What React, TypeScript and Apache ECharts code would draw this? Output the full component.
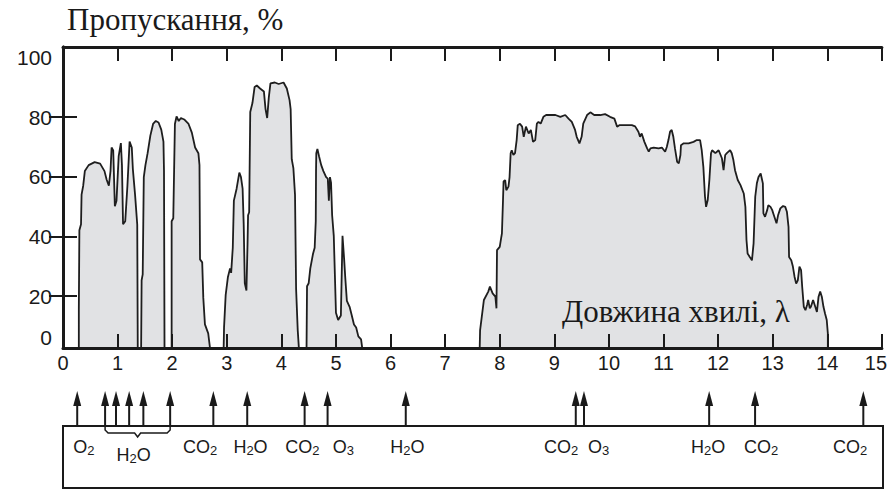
import React, { useEffect, useRef } from 'react';
import * as echarts from 'echarts';

// Atmospheric transmission windows: [wavelength µm, transmission %]
const windowUv: [number, number][] = [
  [0.29, 0], [0.29, 15.4], [0.3, 42.1], [0.33, 44.1], [0.34, 54.0], [0.37, 57.0], [0.4, 61.9],
  [0.47, 63.9], [0.58, 64.9], [0.68, 64.4], [0.76, 61.9], [0.8, 59.0], [0.84, 57.0], [0.87, 61.9],
  [0.89, 69.8], [0.92, 68.8], [0.95, 50.1], [0.98, 52.0], [1.02, 66.9], [1.06, 71.3], [1.08, 63.9],
  [1.1, 44.1], [1.14, 45.1], [1.18, 57.0], [1.22, 71.8], [1.26, 69.8], [1.28, 62.5], [1.32, 54.0],
  [1.36, 44.0], [1.37, 0],
];
const windowNir1: [number, number][] = [
  [1.43, 0], [1.44, 25.3], [1.46, 27.3], [1.48, 59.9], [1.51, 63.9], [1.55, 67.9], [1.6, 73.8],
  [1.65, 77.7], [1.7, 78.7], [1.75, 78.2], [1.8, 75.8], [1.84, 71.8], [1.85, 61.9], [1.86, 0],
];
const windowNir2: [number, number][] = [
  [1.99, 0], [1.99, 45.1], [2.02, 46.1], [2.05, 77.7], [2.08, 80.2], [2.12, 78.7], [2.16, 79.7],
  [2.22, 79.2], [2.3, 77.7], [2.36, 74.8], [2.42, 69.8], [2.48, 67.9], [2.5, 63.9], [2.51, 32.3],
  [2.55, 31.3], [2.57, 19.4], [2.6, 10.5], [2.66, 7.5], [2.71, 0],
];
const windowMwir: [number, number][] = [
  [2.94, 0], [2.95, 9.5], [2.98, 20.4], [3.02, 26.3], [3.06, 29.3], [3.08, 27.8], [3.11, 36.2],
  [3.13, 52.0], [3.18, 56.0], [3.23, 61.4], [3.26, 59.9], [3.29, 56.0], [3.31, 44.1], [3.33, 24.3],
  [3.36, 21.9], [3.38, 37.2], [3.39, 47.1], [3.41, 48.1], [3.43, 81.7], [3.47, 84.7], [3.51, 90.1],
  [3.55, 90.6], [3.61, 89.6], [3.68, 88.6], [3.71, 82.7], [3.74, 79.7], [3.77, 86.6], [3.8, 91.3],
  [3.88, 91.6], [3.95, 91.1], [4.04, 91.6], [4.1, 89.6], [4.15, 85.7], [4.17, 82.7], [4.19, 65.9],
  [4.22, 62.9], [4.25, 54.0], [4.27, 22.4], [4.3, 8.5], [4.33, 0],
];
const windowMwir2: [number, number][] = [
  [4.46, 0], [4.47, 23.3], [4.5, 24.3], [4.53, 29.3], [4.58, 34.2], [4.61, 36.2], [4.63, 45.1],
  [4.635, 61.9], [4.64, 67.9], [4.66, 69.3], [4.69, 66.9], [4.73, 63.9], [4.77, 61.9], [4.82, 59.9],
  [4.85, 59.4], [4.87, 52.0], [4.89, 59.9], [4.91, 58.0], [4.93, 47.1], [4.96, 40.2], [4.98, 27.3],
  [5.0, 14.4], [5.04, 12.0], [5.09, 13.5], [5.12, 40.2], [5.15, 32.3], [5.17, 26.3], [5.2, 18.4],
  [5.25, 16.4], [5.29, 13.5], [5.33, 10.5], [5.37, 9.5], [5.41, 6.5], [5.46, 5.5], [5.5, 0],
];
const windowLwir: [number, number][] = [
  [7.63, 0], [7.64, 8.5], [7.71, 18.7], [7.79, 21.5], [7.82, 23.2], [7.87, 20.9], [7.92, 19.8],
  [7.94, 15.9], [7.95, 35.4], [8.0, 36.5], [8.03, 39.9], [8.04, 41.0], [8.06, 52.2], [8.07, 58.4],
  [8.1, 58.9], [8.12, 55.5], [8.16, 56.7], [8.18, 59.9], [8.2, 67.9], [8.22, 68.9], [8.25, 67.3],
  [8.28, 67.9], [8.31, 72.3], [8.33, 77.3], [8.37, 77.8], [8.41, 76.8], [8.44, 73.4], [8.48, 76.8],
  [8.53, 74.5], [8.57, 75.7], [8.61, 71.7], [8.65, 72.3], [8.68, 77.8], [8.71, 78.4], [8.75, 77.8],
  [8.8, 80.1], [8.85, 80.7], [9.02, 80.7], [9.11, 80.1], [9.2, 80.7], [9.26, 79.5], [9.32, 78.4],
  [9.38, 75.7], [9.41, 73.4], [9.46, 71.2], [9.5, 73.4], [9.53, 77.8], [9.6, 80.7], [9.66, 81.6],
  [9.73, 80.7], [9.84, 80.7], [9.93, 81.0], [10.02, 80.1], [10.1, 79.5], [10.15, 76.8], [10.19, 77.3],
  [10.42, 77.3], [10.48, 76.9], [10.54, 75.1], [10.57, 73.4], [10.6, 74.5], [10.65, 71.7],
  [10.7, 69.5], [10.73, 68.4], [10.76, 69.5], [10.82, 69.8], [10.91, 69.5], [10.97, 69.8],
  [11.03, 68.4], [11.06, 70.0], [11.09, 72.3], [11.12, 75.1], [11.15, 75.7], [11.18, 73.4],
  [11.21, 69.5], [11.25, 65.0], [11.28, 64.5], [11.31, 67.3], [11.32, 70.6], [11.37, 71.2],
  [11.46, 71.2], [11.55, 71.7], [11.61, 72.3], [11.67, 72.3], [11.7, 68.9], [11.73, 63.3],
  [11.76, 53.3], [11.78, 49.9], [11.81, 52.2], [11.84, 58.9], [11.87, 67.9], [11.89, 68.9],
  [11.95, 67.9], [12.01, 68.9], [12.07, 66.2], [12.1, 62.2], [12.13, 67.3], [12.16, 67.9],
  [12.19, 68.4], [12.22, 68.9], [12.25, 67.9], [12.28, 65.6], [12.31, 62.2], [12.36, 58.9],
  [12.41, 57.2], [12.47, 54.4], [12.5, 49.9], [12.52, 38.8], [12.54, 34.3], [12.58, 33.1],
  [12.62, 32.0], [12.65, 37.7], [12.68, 53.3], [12.71, 57.8], [12.74, 59.9], [12.78, 61.1],
  [12.82, 57.8], [12.83, 47.7], [12.86, 46.6], [12.9, 48.9], [12.92, 50.5], [12.96, 49.9],
  [12.99, 48.9], [13.02, 47.2], [13.07, 44.4], [13.1, 47.2], [13.14, 49.4], [13.19, 50.2],
  [13.23, 49.9], [13.26, 48.3], [13.29, 43.2], [13.3, 33.1], [13.34, 32.0], [13.37, 29.9],
  [13.4, 26.5], [13.43, 24.2], [13.46, 25.3], [13.49, 29.9], [13.52, 28.7], [13.54, 23.2],
  [13.57, 16.4], [13.6, 15.3], [13.63, 17.0], [13.65, 18.7], [13.68, 15.9], [13.7, 16.4],
  [13.74, 18.7], [13.78, 16.4], [13.81, 14.7], [13.84, 19.8], [13.87, 21.5], [13.9, 19.8],
  [13.93, 16.4], [13.96, 14.1], [13.99, 12.0], [14.01, 7.5], [14.01, 0],
];

// Axis ticks
const yTickValues = [20, 40, 60, 80];
const yLabelValues = [2.6, 20, 40, 60, 80, 100];

// Absorption bands marked below the axis
const absorptionArrows = [0.26, 0.77, 0.97, 1.21, 1.47, 1.96, 2.75, 3.37, 4.42, 4.84, 6.27, 9.38, 9.53, 11.82, 12.66, 14.64];
const gasNames = ['O2', 'CO2', 'H2O', 'CO2', 'O3', 'H2O', 'CO2', 'O3', 'H2O', 'CO2', 'CO2'];
const gasNameAt = [0.38, 2.51, 3.43, 4.38, 5.13, 6.3, 9.11, 9.8, 11.8, 12.77, 14.4];
const braceRange = [0.77, 1.96];
const braceName = 'H2O';

const INK = '#1a1a1a';
const SANS = '"Liberation Sans", Arial, Helvetica, sans-serif';
const SERIF = '"Liberation Serif", "Times New Roman", serif';

const chemRich = (name: string) => name.replace(/(\d)/g, '{s|$1}');
const chemStyle = {
  fontSize: 18,
  fontFamily: SANS,
  fill: INK,
  lineHeight: 20,
  align: 'center',
  verticalAlign: 'middle',
  rich: {
    s: { fontSize: 13, fontFamily: SANS, fill: INK, lineHeight: 14, verticalAlign: 'bottom' },
  },
};

const transmission = [
  ...windowUv, ...windowNir1, ...windowNir2, ...windowMwir, ...windowMwir2, ...windowLwir,
];

const axisCommon = {
  type: 'value' as const,
  gridIndex: 0,
  axisLine: { show: true, lineStyle: { color: INK, width: 3 } },
  axisTick: { show: true, inside: true, length: 14, lineStyle: { color: INK, width: 2 } },
  splitLine: { show: false },
  z: 10,
};

const option: any = {
  animation: false,
  backgroundColor: '#ffffff',
  grid: [
    { left: 63, right: 7, top: 47, bottom: 145, show: false },
    { left: 63, right: 7, top: 426, bottom: 5, show: true, borderColor: INK, borderWidth: 2, backgroundColor: 'transparent' },
  ],
  xAxis: [
    {
      ...axisCommon,
      position: 'bottom',
      min: 0,
      max: 15,
      interval: 1,
      axisLabel: {
        margin: 5,
        fontSize: 20,
        fontFamily: SANS,
        color: INK,
        formatter: (v: number) => (v === 15 ? '{r|15}' : String(v)),
        rich: { r: { fontSize: 20, fontFamily: SANS, color: INK, padding: [0, 12, 0, 0] } },
      },
    },
    {
      ...axisCommon,
      position: 'top',
      min: 0,
      max: 15,
      interval: 1,
      axisLabel: { show: false },
    },
    { type: 'value', gridIndex: 1, min: 0, max: 15, show: false },
  ],
  yAxis: [
    {
      ...axisCommon,
      position: 'left',
      min: 2.6,
      max: 103.5,
      axisTick: { ...axisCommon.axisTick, customValues: yTickValues },
      axisLabel: {
        customValues: yLabelValues,
        margin: 11,
        fontSize: 21,
        fontFamily: SANS,
        color: INK,
        formatter: (v: number) => (v < 10 ? '{z|0}' : String(v)),
        rich: { z: { fontSize: 21, fontFamily: SANS, color: INK, padding: [0, 0, 22, 0] } },
      },
    },
    {
      ...axisCommon,
      position: 'right',
      min: 2.6,
      max: 103.5,
      axisTick: { ...axisCommon.axisTick, customValues: yTickValues },
      axisLabel: { show: false },
    },
    { type: 'value', gridIndex: 1, min: 0, max: 1, show: false },
  ],
  series: [
    {
      type: 'line',
      xAxisIndex: 0,
      yAxisIndex: 0,
      data: transmission,
      showSymbol: false,
      symbol: 'none',
      clip: true,
      lineStyle: { color: '#1e1e1e', width: 1.8 },
      areaStyle: { color: '#e1e2e4', opacity: 1 },
      z: 2,
    },
    {
      // absorption arrows
      type: 'custom',
      xAxisIndex: 2,
      yAxisIndex: 2,
      clip: false,
      data: absorptionArrows.map((w) => [w, 1]),
      renderItem: (_params: any, api: any) => {
        const [x, y] = api.coord([api.value(0), 1]);
        const tip = y - 35;
        return {
          type: 'group',
          children: [
            { type: 'line', shape: { x1: x, y1: y, x2: x, y2: tip + 10 }, style: { stroke: INK, lineWidth: 2 } },
            { type: 'polygon', shape: { points: [[x - 4, tip + 15], [x, tip], [x + 4, tip + 15]] }, style: { fill: INK } },
          ],
        };
      },
      z: 5,
    },
    {
      // gas names
      type: 'custom',
      xAxisIndex: 2,
      yAxisIndex: 2,
      clip: false,
      data: gasNameAt.map((w, i) => [w, 1, i]),
      renderItem: (_params: any, api: any) => {
        const [x, y] = api.coord([api.value(0), 1]);
        const name = gasNames[api.value(2)];
        return { type: 'text', x, y: y + 21, style: { ...chemStyle, text: chemRich(name) } };
      },
      z: 5,
    },
    {
      // brace grouping the water bands
      type: 'custom',
      xAxisIndex: 2,
      yAxisIndex: 2,
      clip: false,
      data: [[braceRange[0], braceRange[1]]],
      renderItem: (_params: any, api: any) => {
        const [x1, y] = api.coord([api.value(0), 1]);
        const [x2] = api.coord([api.value(1), 1]);
        const xm = (x1 + x2) / 2;
        const yb = y + 7;
        return {
          type: 'group',
          children: [
            {
              type: 'polyline',
              shape: {
                points: [
                  [x1, y], [x1, yb - 3], [x1 + 3, yb], [xm - 3, yb], [xm, yb + 4],
                  [xm + 3, yb], [x2 - 3, yb], [x2, yb - 3], [x2, y],
                ],
              },
              style: { stroke: INK, lineWidth: 1.5, fill: null },
            },
            { type: 'text', x: xm - 4, y: y + 29, style: { ...chemStyle, text: chemRich(braceName) } },
          ],
        };
      },
      z: 5,
    },
  ],
  graphic: [
    {
      type: 'text',
      left: 67,
      top: 4,
      z: 100,
      style: { text: 'Пропускання, %', fontSize: 31, fontFamily: SERIF, fill: INK },
    },
    {
      type: 'text',
      left: 562,
      top: 296,
      z: 100,
      style: { text: 'Довжина хвилі, λ', fontSize: 31, fontFamily: SERIF, fill: INK },
    },
  ],
};

export default function App() {
  const ref = useRef<HTMLDivElement>(null);
  useEffect(() => {
    if (!ref.current) return;
    const chart = echarts.init(ref.current, null, { renderer: 'svg' });
    chart.setOption(option);
    return () => chart.dispose();
  }, []);
  return (
    <div
      ref={ref}
      style={{ position: 'fixed', left: 0, top: 0, width: 890, height: 493, background: '#fff' }}
    />
  );
}
